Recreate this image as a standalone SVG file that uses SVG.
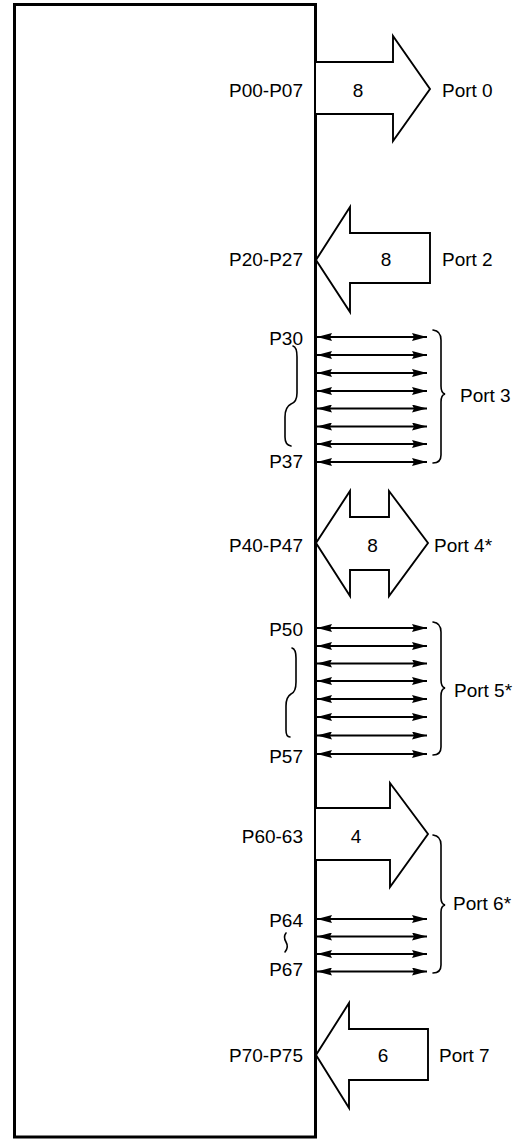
<svg xmlns="http://www.w3.org/2000/svg" width="518" height="1140" viewBox="0 0 518 1140">
<style>
.bg{fill:#fff}
.box{fill:#fff;stroke:#000;stroke-width:3}
.bus{fill:#fff;stroke:#000;stroke-width:1.9;stroke-linejoin:miter}
.sig{stroke:#000;stroke-width:1.8;marker-start:url(#ah);marker-end:url(#ah)}
.br{fill:none;stroke:#000;stroke-width:1.6;stroke-linecap:round}
text{font-family:"Liberation Sans",Arial,sans-serif;font-size:19px;fill:#000}
.r{text-anchor:end}
.m{text-anchor:middle}
</style>
<defs>
<marker id="ah" viewBox="0 0 15 8" refX="15" refY="4" markerWidth="15" markerHeight="8" markerUnits="userSpaceOnUse" orient="auto-start-reverse">
<path d="M0,0 L15,4 L0,8 L2,4 z" fill="#000"/>
</marker>
</defs>
<rect class="bg" x="0" y="0" width="518" height="1140"/>
<g id="chip">
<rect class="box" x="14.5" y="4.5" width="301" height="1132.5"/>
</g>
<g id="connectors">
<g id="port0-bus"><path class="bus" d="M316,62 L393,62 L393,36 L430,89 L393,141 L393,114 L316,114"/></g>
<g id="port2-bus"><path class="bus" d="M316,260 L350,207 L350,233 L430,233 L430,283 L350,283 L350,312 Z"/></g>
<g id="port3-lines">
<line class="sig" x1="317" y1="337" x2="427" y2="337"/>
<line class="sig" x1="317" y1="355" x2="427" y2="355"/>
<line class="sig" x1="317" y1="373" x2="427" y2="373"/>
<line class="sig" x1="317" y1="391" x2="427" y2="391"/>
<line class="sig" x1="317" y1="408.5" x2="427" y2="408.5"/>
<line class="sig" x1="317" y1="426.5" x2="427" y2="426.5"/>
<line class="sig" x1="317" y1="444" x2="427" y2="444"/>
<line class="sig" x1="317" y1="462" x2="427" y2="462"/>
</g>
<g id="port4-bus"><path class="bus" d="M316,543 L350,491 L350,517 L389,517 L389,491 L428,543 L389,596 L389,570 L350,570 L350,596 Z"/></g>
<g id="port5-lines">
<line class="sig" x1="317" y1="628" x2="427" y2="628"/>
<line class="sig" x1="317" y1="646" x2="427" y2="646"/>
<line class="sig" x1="317" y1="663.5" x2="427" y2="663.5"/>
<line class="sig" x1="317" y1="681" x2="427" y2="681"/>
<line class="sig" x1="317" y1="699" x2="427" y2="699"/>
<line class="sig" x1="317" y1="717" x2="427" y2="717"/>
<line class="sig" x1="317" y1="735.5" x2="427" y2="735.5"/>
<line class="sig" x1="317" y1="754" x2="427" y2="754"/>
</g>
<g id="port6-bus"><path class="bus" d="M316,808 L390,808 L390,783 L428,834 L390,887 L390,860 L316,860"/></g>
<g id="port6-lines">
<line class="sig" x1="317" y1="919" x2="427" y2="919"/>
<line class="sig" x1="317" y1="936.5" x2="427" y2="936.5"/>
<line class="sig" x1="317" y1="954" x2="427" y2="954"/>
<line class="sig" x1="317" y1="971.5" x2="427" y2="971.5"/>
</g>
<g id="port7-bus"><path class="bus" d="M316,1055 L349,1003 L349,1029 L428,1029 L428,1080 L349,1080 L349,1108 Z"/></g>
</g>
<g id="braces">
<path class="br" d="M293,346 Q297,347 297,357 L297,393 Q297,402 291,404 Q285,407 285,417 L285,437 Q285,445 291,446"/>
<path class="br" d="M433,330 Q441,331 441,340 L441,386 Q441,393 445,394 Q441,395 441,402 L441,455 Q441,463 433,463"/>
<path class="br" d="M292,648 Q296,649 296,658 L296,682 Q296,692 291,694 Q286,697 286,706 L286,730 Q286,737 290,737"/>
<path class="br" d="M433,622 Q441,623 441,632 L441,680 Q441,687 445,688 Q441,689 441,696 L441,747 Q441,755 433,755"/>
<path class="br" d="M433,835 Q441,836 441,845 L441,898 Q441,904 445,905 Q441,906 441,912 L441,965 Q441,973 433,973"/>
<path class="br" d="M286,933 Q283,937 286,942 Q289,947 285,952"/>
</g>
<g id="port0">
<text class="r" x="303" y="97">P00-P07</text>
<text class="m" x="358" y="97">8</text>
<text x="442" y="97">Port 0</text>
</g>
<g id="port2">
<text class="r" x="303" y="266">P20-P27</text>
<text class="m" x="386" y="266">8</text>
<text x="442" y="266">Port 2</text>
</g>
<g id="port3">
<text class="r" x="303" y="345">P30</text>
<text class="r" x="303" y="468">P37</text>
<text x="460" y="402">Port 3</text>
</g>
<g id="port4">
<text class="r" x="303" y="552">P40-P47</text>
<text class="m" x="372.5" y="552">8</text>
<text x="434" y="552">Port 4*</text>
</g>
<g id="port5">
<text class="r" x="303" y="636">P50</text>
<text class="r" x="303" y="763">P57</text>
<text x="454" y="697">Port 5*</text>
</g>
<g id="port6">
<text class="r" x="303" y="843">P60-63</text>
<text class="m" x="356" y="843">4</text>
<text class="r" x="303" y="927">P64</text>
<text class="r" x="303" y="976">P67</text>
<text x="453" y="910">Port 6*</text>
</g>
<g id="port7">
<text class="r" x="303" y="1062">P70-P75</text>
<text class="m" x="383" y="1062">6</text>
<text x="439" y="1062">Port 7</text>
</g>
</svg>
